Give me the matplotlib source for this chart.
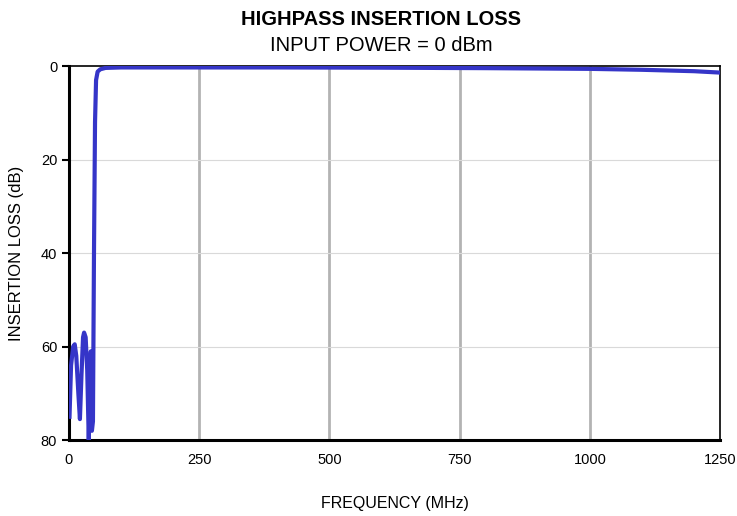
import matplotlib
matplotlib.use("Agg")
import matplotlib.pyplot as plt

plt.rcParams['font.family'] = ['Liberation Sans', 'DejaVu Sans']

# frequency in MHz, insertion loss in dB
freq = [1, 4, 8, 11, 14, 18, 21, 24, 27, 29, 32, 35, 38, 40, 42, 44, 46,
        48, 50, 52, 55, 60, 70, 100, 200, 400, 600, 800, 1000, 1100, 1200, 1250]
loss = [75, 64, 60, 59.5, 62, 70, 75.5, 66, 58, 57, 58, 65, 80, 70, 61, 78, 76,
        40, 12, 3, 1.2, 0.7, 0.4, 0.3, 0.3, 0.3, 0.35, 0.45, 0.6, 0.8, 1.1, 1.4]

fig = plt.figure(figsize=(7.37, 5.16), dpi=100)
ax = fig.add_axes([0.0936, 0.147, 0.8834, 0.725])

ax.plot(freq, loss, color='#3535c8', linewidth=3, solid_joinstyle='round', zorder=3)

ax.set_xlim(0, 1250)
ax.set_ylim(80, 0)
ax.set_xticks([0, 250, 500, 750, 1000, 1250])
ax.set_yticks([0, 20, 40, 60, 80])

for x in [250, 500, 750, 1000]:
    ax.axvline(x, color='#b3b3b3', linewidth=2, zorder=1)
for y in [20, 40, 60]:
    ax.axhline(y, color='#d9d9d9', linewidth=0.8, zorder=1)

for s in ['left', 'bottom']:
    ax.spines[s].set_linewidth(2.2)
for s in ['top', 'right']:
    ax.spines[s].set_linewidth(1.2)

ax.tick_params(axis='y', direction='out', length=5, width=1.5, labelsize=10.5)
ax.tick_params(axis='x', length=0, pad=9, labelsize=10.5)

ax.set_xlabel("FREQUENCY (MHz)", fontsize=11.5, labelpad=21)
ax.set_ylabel("INSERTION LOSS (dB)", fontsize=12, labelpad=12)

fig.text(0.517, 0.962, "HIGHPASS INSERTION LOSS", ha='center', va='center',
         fontsize=14.5, fontweight='bold')
fig.text(0.517, 0.912, "INPUT POWER = 0 dBm", ha='center', va='center', fontsize=14.5)

fig.savefig("out.png", dpi=100)
